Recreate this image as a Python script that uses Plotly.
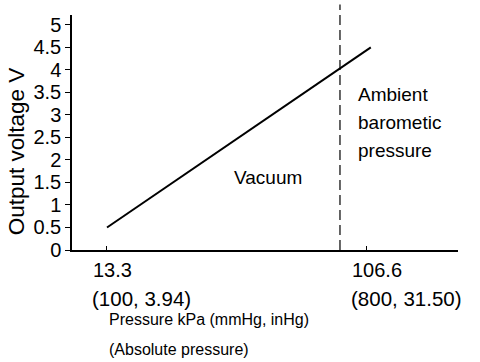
import plotly.graph_objects as go

# ---- data ----
pressure_kpa = [13.3, 108.3]
output_v = [0.5, 4.5]
ambient_kpa = 97.2
xtick_vals = [13.3, 106.6]
xtick_line1 = ["13.3", "106.6"]
xtick_line2 = ["(100, 3.94)", "(800, 31.50)"]
ytick_vals = [0, 0.5, 1, 1.5, 2, 2.5, 3, 3.5, 4, 4.5, 5]
ytick_text = ["0", "0.5", "1", "1.5", "2", "2.5", "3", "3.5", "4", "4.5", "5"]
ambient_lines = ["Ambient", "barometic", "pressure"]

FONT = "Liberation Sans, Arial, Helvetica, sans-serif"

fig = go.Figure()
fig.add_trace(go.Scatter(x=pressure_kpa, y=output_v, mode="lines",
                         line=dict(color="black", width=2), showlegend=False,
                         hoverinfo="skip"))

# ambient pressure dashed line (extends a little above plot)
fig.add_shape(type="line", xref="x", yref="paper", x0=ambient_kpa, x1=ambient_kpa,
              y0=0, y1=1.045, line=dict(color="black", width=1.2, dash="10px,5px"))

ann = []
# x tick labels (two lines, left aligned)
for v, t1, t2 in zip(xtick_vals, xtick_line1, xtick_line2):
    ann.append(dict(x=v, y=0, xref="x", yref="paper", text=t1, showarrow=False,
                    xanchor="left", yanchor="middle", xshift=-16, yshift=-20,
                    font=dict(size=20, color="black", family=FONT)))
    ann.append(dict(x=v, y=0, xref="x", yref="paper", text=t2, showarrow=False,
                    xanchor="left", yanchor="middle", xshift=-17, yshift=-48,
                    font=dict(size=20.5, color="black", family=FONT)))
# x title
ann.append(dict(x=xtick_vals[0], y=0, xref="x", yref="paper",
                text="Pressure kPa (mmHg, inHg)", showarrow=False,
                xanchor="left", yanchor="middle", xshift=0, yshift=-69,
                font=dict(size=16, color="black", family=FONT)))
ann.append(dict(x=xtick_vals[0], y=0, xref="x", yref="paper",
                text="(Absolute pressure)", showarrow=False,
                xanchor="left", yanchor="middle", xshift=0, yshift=-99,
                font=dict(size=16, color="black", family=FONT)))
# y title
ann.append(dict(x=0, y=0.42, xref="paper", yref="paper", text="Output voltage V",
                showarrow=False, textangle=-90, xanchor="center", yanchor="middle",
                xshift=-56, font=dict(size=22.5, color="black", family=FONT)))
# Vacuum
ann.append(dict(x=71.3, y=1.6, xref="x", yref="y", text="Vacuum", showarrow=False,
                xanchor="center", yanchor="middle",
                font=dict(size=19, color="black", family=FONT)))
# Ambient barometic pressure
for i, t in enumerate(ambient_lines):
    ann.append(dict(x=ambient_kpa, y=3.45, xref="x", yref="y", text=t, showarrow=False,
                    xanchor="left", yanchor="middle", xshift=16, yshift=-i * 28,
                    font=dict(size=19, color="black", family=FONT)))

fig.update_layout(
    width=480, height=362,
    margin=dict(l=72, r=22, t=15, b=112),
    plot_bgcolor="white", paper_bgcolor="white",
    font=dict(family=FONT, color="black"),
    annotations=ann,
    showlegend=False,
)
fig.update_xaxes(range=[0.7, 139.7], showgrid=False, zeroline=False,
                 showline=True, linecolor="black", linewidth=1.5,
                 tickvals=xtick_vals, showticklabels=False,
                 ticks="inside", ticklen=4, tickcolor="black", tickwidth=1)
fig.update_yaxes(range=[0, 5.22], showgrid=False, zeroline=False,
                 showline=True, linecolor="black", linewidth=1.5,
                 tickvals=ytick_vals, ticktext=ytick_text,
                 ticks="outside", ticklen=5, tickcolor="black", tickwidth=1,
                 tickfont=dict(size=20, color="black", family=FONT))

fig.write_html("out.html", config={"displayModeBar": False},
               post_script="document.body.style.margin='0';")
